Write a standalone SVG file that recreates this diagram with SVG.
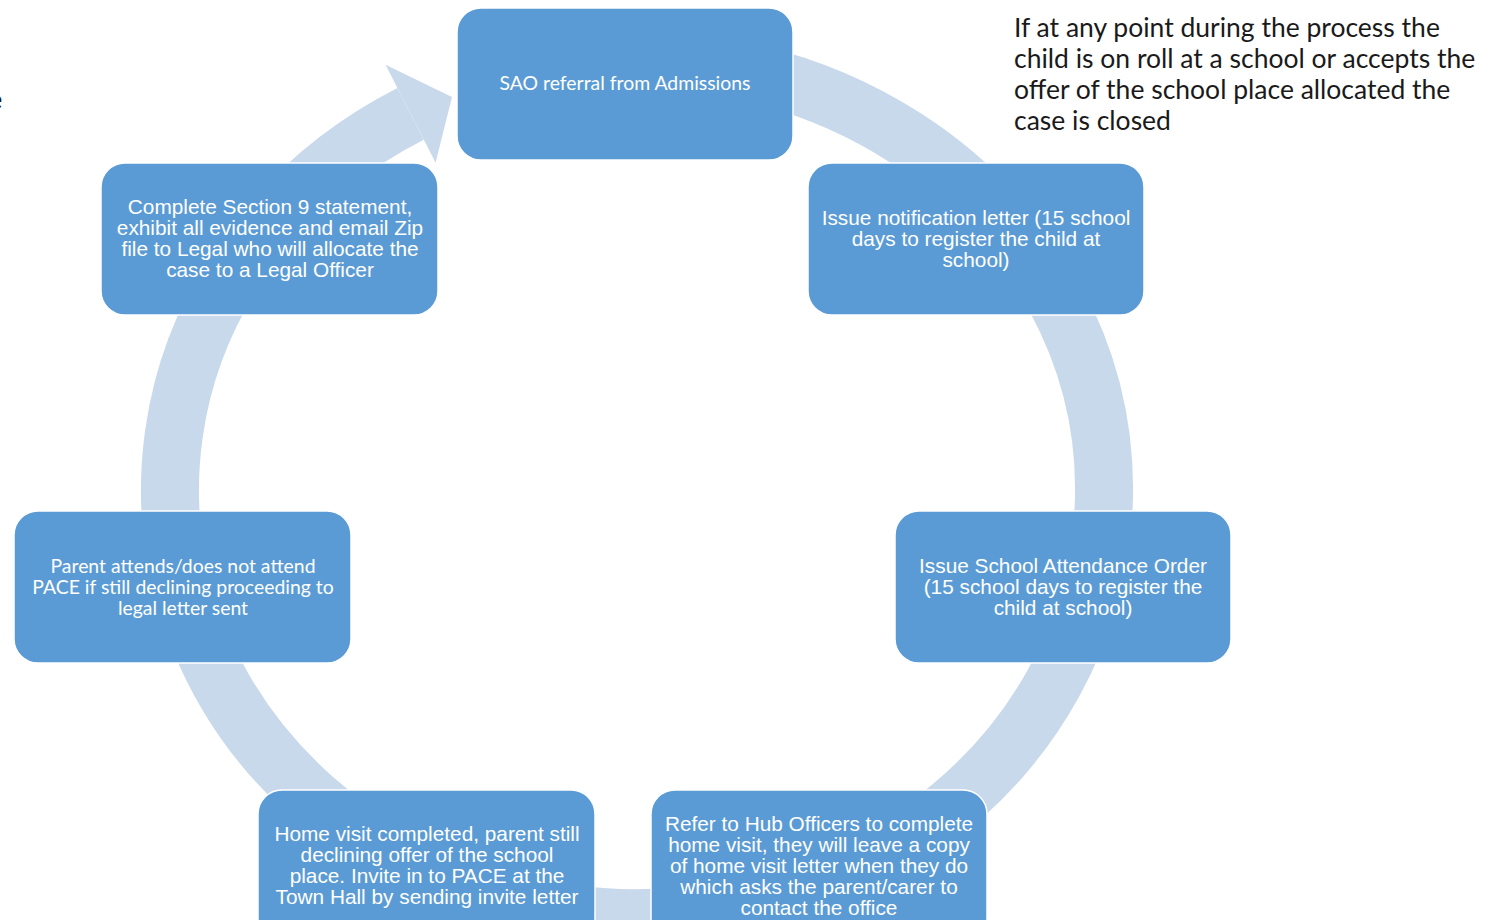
<svg xmlns="http://www.w3.org/2000/svg" width="1493" height="920" viewBox="0 0 1493 920">
  <style>
    .node rect { fill: #5b9bd5; stroke: #ffffff; stroke-width: 1.5; }
    .arial { font-family: "Liberation Sans", Arial, sans-serif; font-size: 20.8px; fill: #ffffff; text-anchor: middle; }
    .cal { font-family: Lato, "Open Sans", sans-serif; fill: #ffffff; text-anchor: middle; }
    .note { font-family: Lato, "Open Sans", sans-serif; font-size: 26.5px; fill: #1a1a1a; }
  </style>
  <rect x="0" y="0" width="1493" height="920" fill="#ffffff"/>
  <text class="note" x="-12" y="109" font-size="35" font-weight="bold">e</text>
  <g id="connectors">
    <path d="M 718.1 66.5 A 467 429 0 1 1 410.6 113.8" fill="none" stroke="#c9d9ec" stroke-width="58"/>
    <polygon points="385.6,64.8 452,97 435.6,162.8" fill="#c9d9ec"/>
  </g>
  <g id="node-sao" class="node">
    <rect x="457" y="8" width="336" height="152" rx="24"/>
    <text class="cal" x="625" y="90" font-size="19.4">SAO referral from Admissions</text>
  </g>
  <g id="node-notification" class="node">
    <rect x="808" y="163" width="336" height="152" rx="24"/>
    <text class="arial" x="976" y="225">Issue notification letter (15 school</text>
    <text class="arial" x="976" y="246">days to register the child at</text>
    <text class="arial" x="976" y="267">school)</text>
  </g>
  <g id="node-sao-order" class="node">
    <rect x="895" y="511" width="336" height="152" rx="24"/>
    <text class="arial" x="1063" y="573">Issue School Attendance Order</text>
    <text class="arial" x="1063" y="594">(15 school days to register the</text>
    <text class="arial" x="1063" y="615">child at school)</text>
  </g>
  <g id="node-hub" class="node">
    <rect x="651" y="790" width="336" height="152" rx="24"/>
    <text class="arial" x="819" y="831">Refer to Hub Officers to complete</text>
    <text class="arial" x="819" y="852">home visit, they will leave a copy</text>
    <text class="arial" x="819" y="873">of home visit letter when they do</text>
    <text class="arial" x="819" y="894">which asks the parent/carer to</text>
    <text class="arial" x="819" y="915">contact the office</text>
  </g>
  <g id="node-home" class="node">
    <rect x="258" y="790" width="337" height="152" rx="24"/>
    <text class="arial" x="427" y="841">Home visit completed, parent still</text>
    <text class="arial" x="427" y="862">declining offer of the school</text>
    <text class="arial" x="427" y="883">place. Invite in to PACE at the</text>
    <text class="arial" x="427" y="904">Town Hall by sending invite letter</text>
  </g>
  <g id="node-pace" class="node">
    <rect x="14" y="511" width="337" height="152" rx="24"/>
    <text class="cal" x="183" y="573" font-size="19.4">Parent attends/does not attend</text>
    <text class="cal" x="183" y="594" font-size="19.4">PACE if still declining proceeding to</text>
    <text class="cal" x="183" y="615" font-size="19.4">legal letter sent</text>
  </g>
  <g id="node-legal" class="node">
    <rect x="101" y="163" width="337" height="152" rx="24"/>
    <text class="arial" x="270" y="214">Complete Section 9 statement,</text>
    <text class="arial" x="270" y="235">exhibit all evidence and email Zip</text>
    <text class="arial" x="270" y="256">file to Legal who will allocate the</text>
    <text class="arial" x="270" y="277">case to a Legal Officer</text>
  </g>
  <g id="note">
    <text class="note" x="1014" y="37">If at any point during the process the</text>
    <text class="note" x="1014" y="68">child is on roll at a school or accepts the</text>
    <text class="note" x="1014" y="99">offer of the school place allocated the</text>
    <text class="note" x="1014" y="130">case is closed</text>
  </g>
</svg>
